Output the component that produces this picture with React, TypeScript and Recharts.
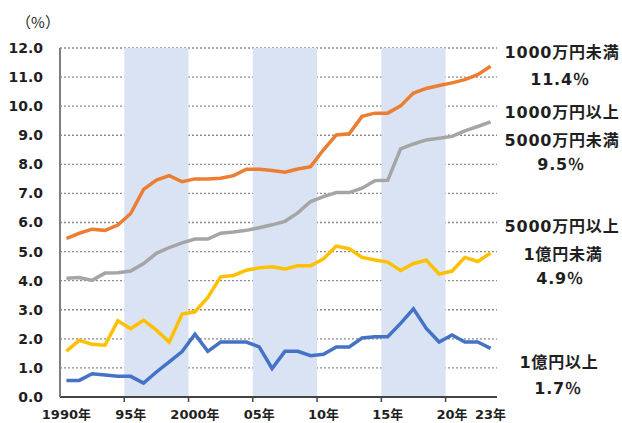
import { LineChart, Line, XAxis, YAxis, CartesianGrid, ReferenceArea } from 'recharts';

const years = [
  1990, 1991, 1992, 1993, 1994, 1995, 1996, 1997, 1998, 1999,
  2000, 2001, 2002, 2003, 2004, 2005, 2006, 2007, 2008, 2009,
  2010, 2011, 2012, 2013, 2014, 2015, 2016, 2017, 2018, 2019,
  2020, 2021, 2022, 2023,
];

// 1000万円未満
const under10m = [
  5.45, 5.63, 5.77, 5.73, 5.91, 6.31, 7.14, 7.46, 7.61, 7.4,
  7.5, 7.5, 7.52, 7.61, 7.83, 7.83, 7.79, 7.73, 7.84, 7.92,
  8.5, 9.01, 9.05, 9.65, 9.76, 9.76, 10.01, 10.45, 10.61, 10.71,
  10.8, 10.91, 11.08, 11.37,
];
// 1000万円以上5000万円未満
const from10mTo50m = [
  4.08, 4.11, 4.01, 4.26, 4.27, 4.33, 4.59, 4.94, 5.14, 5.3,
  5.43, 5.43, 5.63, 5.67, 5.73, 5.82, 5.92, 6.04, 6.33, 6.72,
  6.89, 7.03, 7.03, 7.18, 7.44, 7.45, 8.53, 8.7, 8.84, 8.9,
  8.96, 9.15, 9.3, 9.46,
];
// 5000万円以上1億円未満
const from50mTo100m = [
  1.58, 1.95, 1.81, 1.78, 2.62, 2.35, 2.64, 2.3, 1.89, 2.85,
  2.93, 3.42, 4.13, 4.18, 4.36, 4.44, 4.48, 4.4, 4.51, 4.51,
  4.75, 5.19, 5.1, 4.8, 4.71, 4.64, 4.35, 4.59, 4.7, 4.23,
  4.33, 4.8, 4.66, 4.95,
];
// 1億円以上
const over100m = [
  0.57, 0.57, 0.8, 0.76, 0.71, 0.71, 0.48, 0.86, 1.21, 1.56,
  2.16, 1.57, 1.89, 1.89, 1.89, 1.72, 0.98, 1.57, 1.57, 1.42,
  1.47, 1.72, 1.72, 2.03, 2.07, 2.07, 2.53, 3.03, 2.36, 1.89,
  2.13, 1.89, 1.89, 1.67,
];

const xTicks = [1990, 1995, 2000, 2005, 2010, 2015, 2020, 2023];
const xTickText: Record<number, string> = {
  1990: '1990年', 1995: '95年', 2000: '2000年', 2005: '05年',
  2010: '10年', 2015: '15年', 2020: '20年', 2023: '23年',
};
const yTicks = [0, 1, 2, 3, 4, 5, 6, 7, 8, 9, 10, 11, 12];
const shadedSpans = [
  [1995, 1999],
  [2005, 2009],
  [2015, 2019],
];

const data = years.map((year, i) => ({
  year,
  under10m: under10m[i],
  from10mTo50m: from10mTo50m[i],
  from50mTo100m: from50mTo100m[i],
  over100m: over100m[i],
}));

const FONT = '"DejaVu Sans", "Noto Sans CJK JP", sans-serif';
const INK = '#1f1f1f';

function YearTick(props: any) {
  const { x, y, payload } = props;
  const half = payload?.offset ?? 6.43;
  const mark = payload.value !== 1990 && payload.value !== 2023;
  return (
    <g>
      {mark && <line x1={x - half} x2={x - half} y1={y} y2={y + 5} stroke="#444" strokeWidth={1.5} />}
      <text x={x} y={y + 22} textAnchor="middle" fontSize={13} fontWeight="bold" fill={INK} fontFamily={FONT}>
        {xTickText[payload.value]}
      </text>
    </g>
  );
}

const sideLabels = [
  { x: 562, y: 53, text: '1000万円未満' },
  { x: 560, y: 80, text: '11.4％' },
  { x: 562, y: 113, text: '1000万円以上' },
  { x: 562, y: 141, text: '5000万円未満' },
  { x: 561, y: 165, text: '9.5％' },
  { x: 562, y: 227, text: '5000万円以上' },
  { x: 563, y: 255, text: '1億円未満' },
  { x: 560, y: 279, text: '4.9％' },
  { x: 559, y: 363, text: '1億円以上' },
  { x: 558, y: 389, text: '1.7％' },
];

export default function App() {
  return (
    <div style={{ position: 'absolute', left: 0, top: 0, width: 622, height: 423, background: '#fff' }}>
      <LineChart width={622} height={423} data={data} margin={{ top: 48, right: 125, left: 0, bottom: 0 }}>
        {shadedSpans.map(([a, b]) => (
          <ReferenceArea key={a} x1={a} x2={b} y1={0} y2={12} fill="#dae3f3" fillOpacity={1} stroke="none" ifOverflow="extendDomain" />
        ))}
        <CartesianGrid vertical={false} stroke="#8a8a8a" strokeWidth={1.3} strokeDasharray="2 2" />
        <XAxis
          dataKey="year"
          scale="band"
          ticks={xTicks}
          interval={0}
          height={26}
          tickSize={0}
          tickMargin={0}
          tick={<YearTick />}
          axisLine={{ stroke: '#444', strokeWidth: 2 }}
        />
        <YAxis
          domain={[0, 12]}
          ticks={yTicks}
          width={60}
          tickSize={0}
          tickMargin={17}
          tickLine={false}
          tickFormatter={(v: number) => v.toFixed(1)}
          tick={{ fontSize: 14, fontWeight: 'bold', fill: INK, fontFamily: FONT }}
          axisLine={{ stroke: '#7f7f7f', strokeWidth: 2 }}
        />
        <Line dataKey="under10m" stroke="#ed7d31" strokeWidth={3.5} dot={false} isAnimationActive={false} />
        <Line dataKey="from10mTo50m" stroke="#a5a5a5" strokeWidth={3.5} dot={false} isAnimationActive={false} />
        <Line dataKey="from50mTo100m" stroke="#ffc000" strokeWidth={3.5} dot={false} isAnimationActive={false} />
        <Line dataKey="over100m" stroke="#4472c4" strokeWidth={3.5} dot={false} isAnimationActive={false} />
      </LineChart>
      <div style={{ position: 'absolute', left: 38, top: 21, transform: 'translate(-50%, -50%)', fontFamily: '"Noto Sans CJK JP", sans-serif', fontSize: 15, color: INK, whiteSpace: 'nowrap', lineHeight: 1 }}>
        （%）
      </div>
      {sideLabels.map((l) => (
        <div
          key={l.text}
          style={{
            position: 'absolute',
            left: l.x,
            top: l.y,
            transform: 'translate(-50%, -50%)',
            fontFamily: FONT,
            fontSize: 16,
            fontWeight: 'bold',
            letterSpacing: 0.8,
            color: INK,
            whiteSpace: 'nowrap',
            lineHeight: 1,
          }}
        >
          {l.text}
        </div>
      ))}
    </div>
  );
}
